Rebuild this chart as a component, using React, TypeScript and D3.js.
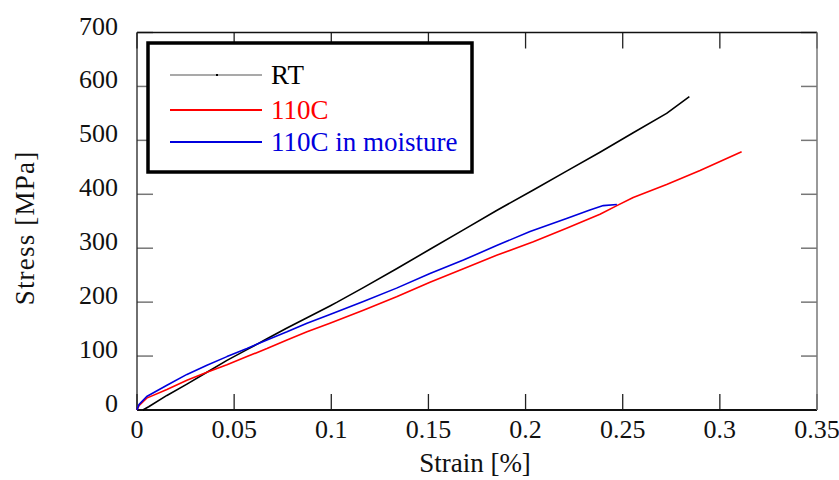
import React from "react";
import * as d3 from "d3";

const rtStrain = [0.003, 0.006, 0.0154, 0.0257, 0.036, 0.0463, 0.0566, 0.0669, 0.0772, 0.0875, 0.0993, 0.103, 0.1165, 0.1336, 0.1508, 0.168, 0.1851, 0.204, 0.2211, 0.2383, 0.2554, 0.2726, 0.2843];
const rtStress = [0, 6, 27, 48, 70, 92, 112, 132, 152, 171, 193, 200, 227, 262, 298, 334, 370, 408, 443, 478, 514, 550, 581];

const hotStrain = [0, 0.001, 0.005, 0.0154, 0.0257, 0.036, 0.0463, 0.0566, 0.0669, 0.0772, 0.0875, 0.0993, 0.1165, 0.1336, 0.1508, 0.168, 0.1851, 0.204, 0.2211, 0.2383, 0.247, 0.2554, 0.2726, 0.2898, 0.3112];
const hotStress = [0, 8, 22, 38, 55, 70, 84, 99, 114, 130, 145, 161, 185, 210, 237, 262, 287, 312, 337, 363, 379, 394, 418, 444, 479];

const moistStrain = [0, 0.001, 0.005, 0.0154, 0.0257, 0.036, 0.0463, 0.0566, 0.0669, 0.0772, 0.0875, 0.0993, 0.1165, 0.1336, 0.1508, 0.168, 0.1851, 0.2023, 0.2211, 0.2331, 0.24, 0.247];
const moistStress = [0, 10, 25, 46, 66, 83, 99, 114, 130, 145, 161, 177, 201, 226, 253, 278, 305, 331, 355, 371, 379, 381];

const xTicks = [0, 0.05, 0.1, 0.15, 0.2, 0.25, 0.3, 0.35];
const xTickLabels = ["0", "0.05", "0.1", "0.15", "0.2", "0.25", "0.3", "0.35"];
const yTicks = [0, 100, 200, 300, 400, 500, 600, 700];

const seriesNames = ["RT", "110C", "110C in moisture"];
const seriesColors = ["#000000", "#ff0000", "#0000dd"];

export default function App() {
  const W = 839, H = 480;
  const L = 137, R = 817, T = 32.5, B = 410;
  const x = d3.scaleLinear().domain([0, 0.35]).range([L, R]);
  const y = d3.scaleLinear().domain([0, 700]).range([B, T]);
  const line = d3.line<[number, number]>().x(d => x(d[0])).y(d => y(d[1]));
  const series = [
    rtStrain.map((s, i) => [s, rtStress[i]] as [number, number]),
    hotStrain.map((s, i) => [s, hotStress[i]] as [number, number]),
    moistStrain.map((s, i) => [s, moistStress[i]] as [number, number]),
  ];
  const font = "'Liberation Serif', 'Times New Roman', serif";
  const tl = 16;
  return (
    <svg width={W} height={H} style={{ position: "absolute", left: 0, top: 0, background: "#fff" }} fontFamily={font}>
      <rect x={0} y={0} width={W} height={H} fill="#fff" />
      {xTicks.map((t, i) => (
        <g key={"xt" + i}>
          <line x1={x(t)} x2={x(t)} y1={B} y2={B - tl} stroke="#222" strokeWidth={1.3} />
          <line x1={x(t)} x2={x(t)} y1={T} y2={T + tl} stroke="#222" strokeWidth={1.3} />
          <text x={x(t)} y={438} textAnchor="middle" fontSize={26} fill="#111">{xTickLabels[i]}</text>
        </g>
      ))}
      {yTicks.map((t, i) => (
        <g key={"yt" + i}>
          <line x1={L} x2={L + tl} y1={y(t)} y2={y(t)} stroke="#777" strokeWidth={1.5} />
          <line x1={R} x2={R - tl} y1={y(t)} y2={y(t)} stroke="#777" strokeWidth={1.5} />
          <text x={118} y={y(t) + 2} textAnchor="end" fontSize={26} fill="#111">{String(t)}</text>
        </g>
      ))}
      <line x1={L} x2={R} y1={T} y2={T} stroke="#111" strokeWidth={1.5} />
      <line x1={L} x2={R} y1={B} y2={B} stroke="#111" strokeWidth={1.8} />
      <line x1={L} x2={L} y1={T} y2={B} stroke="#222" strokeWidth={1.3} />
      <line x1={R} x2={R} y1={T} y2={B} stroke="#777" strokeWidth={1.5} />
      {series.map((d, i) => (
        <path key={"s" + i} d={line(d) || ""} fill="none" stroke={seriesColors[i]} strokeWidth={1.6} strokeLinejoin="round" />
      ))}
      <rect x={148} y={43} width={324} height={129} fill="#fff" stroke="#000" strokeWidth={3.5} />
      {seriesNames.map((n, i) => {
        const ly = [75, 110, 142][i];
        return (
          <g key={"lg" + i}>
            <line x1={170} x2={262} y1={ly} y2={ly} stroke={i === 0 ? "#555" : seriesColors[i]} strokeWidth={i === 0 ? 1.2 : 2} />
            {i === 0 && <rect x={216} y={ly - 1} width={2} height={2} fill="#000" />}
            <text x={271} y={ly + 9} fontSize={27} fill={seriesColors[i]}>{n}</text>
          </g>
        );
      })}
      <text x={475} y={472} textAnchor="middle" fontSize={27} fill="#111">Strain [%]</text>
      <text transform="translate(34,228) rotate(-90)" textAnchor="middle" fontSize={27} letterSpacing={1.2} fill="#111">Stress [MPa]</text>
    </svg>
  );
}
